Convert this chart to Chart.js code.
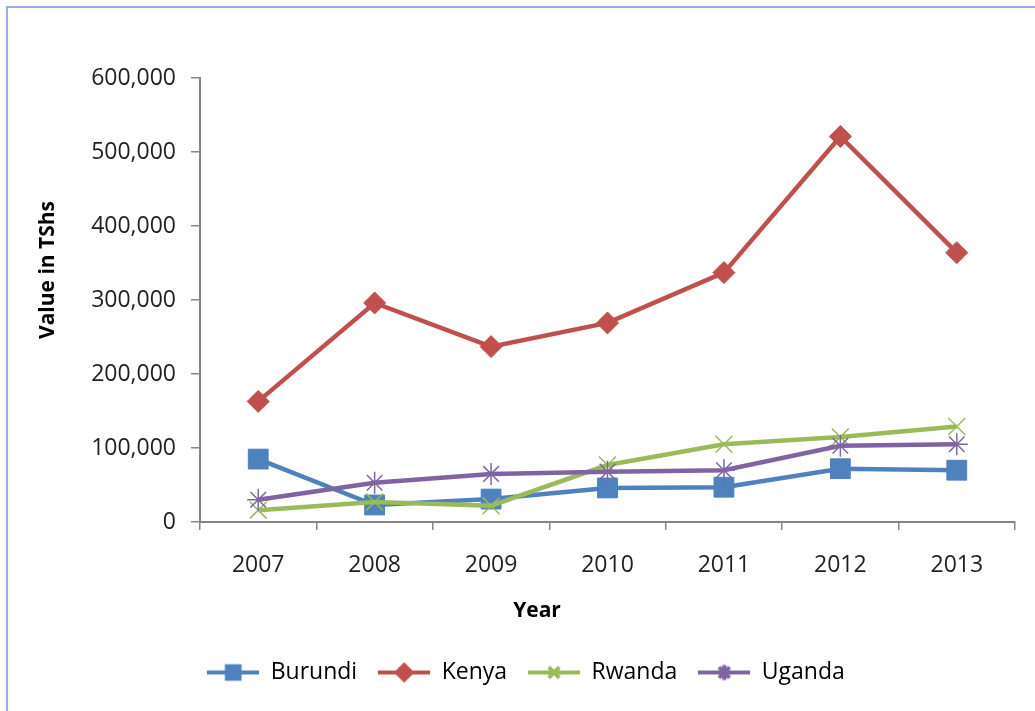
<!DOCTYPE html>
<html>
<head>
<meta charset="utf-8">
<script src="https://cdn.jsdelivr.net/npm/chart.js@4"></script>
<style>
  html, body { margin: 0; padding: 0; background: #fff; overflow: hidden; }
  #frame {
    position: absolute; left: 6px; top: 6px; width: 1100px; height: 800px;
    border: 2px solid #8db3e2;
  }
  #chart { position: absolute; left: 0; top: 0; }
</style>
</head>
<body>
<div id="frame"></div>
<canvas id="chart" width="1035" height="711"></canvas>
<script>
const years = ["2007", "2008", "2009", "2010", "2011", "2012", "2013"]
const burundi = [85000, 23000, 31000, 46000, 47000, 72000, 70000]
const kenya = [163000, 296000, 237000, 269000, 337000, 521000, 364000]
const rwanda = [16000, 27000, 22000, 77000, 105000, 115000, 129000]
const uganda = [30000, 53000, 65000, 68000, 70000, 103000, 105000]
const yTicks = [0, 100000, 200000, 300000, 400000, 500000, 600000]

const series = [
  { label: "Burundi", data: burundi, color: "#4f81bd", marker: "rect", radius: 14, filled: true },
  { label: "Kenya", data: kenya, color: "#c0504d", marker: "rectRot", radius: 11, filled: true },
  { label: "Rwanda", data: rwanda, color: "#9bbb59", marker: "crossRot", radius: 12, filled: false },
  { label: "Uganda", data: uganda, color: "#8064a2", marker: "star", radius: 11, filled: false },
]

Chart.defaults.font.family = "'Open Sans', sans-serif"
Chart.defaults.font.size = 23
Chart.defaults.color = "#1f1f1f"

// small line + marker pictures for the legend
function legendIcon(s) {
  const c = document.createElement("canvas")
  c.width = 52
  c.height = 24
  const ctx = c.getContext("2d")
  ctx.strokeStyle = s.color
  ctx.fillStyle = s.color
  ctx.lineWidth = 4
  ctx.beginPath()
  ctx.moveTo(0, 12)
  ctx.lineTo(52, 12)
  ctx.stroke()
  const r = s.marker === "rect" ? 9 : 7.5
  Chart.helpers.drawPoint(ctx, { pointStyle: s.marker, radius: r, borderWidth: s.filled ? 1 : 1.2 }, 26, 12)
  return c
}

const titles = {
  id: "titles",
  afterDraw(chart) {
    const ctx = chart.ctx
    ctx.save()
    ctx.fillStyle = "#000"
    ctx.font = "bold 21px 'Open Sans', sans-serif"
    ctx.textAlign = "center"
    ctx.textBaseline = "middle"
    ctx.fillText("Year", 537, 611)
    ctx.translate(48, 270)
    ctx.rotate(-Math.PI / 2)
    ctx.fillText("Value in TShs", 0, 0)
    ctx.restore()
  },
}

const config = {
  type: "line",
  data: {
    labels: years,
    datasets: series.map((s, i) => ({
      label: s.label,
      data: s.data,
      order: series.length - i,
      borderColor: s.color,
      backgroundColor: s.color,
      borderWidth: 4.5,
      tension: 0,
      pointStyle: s.marker,
      pointRadius: s.radius,
      pointBorderWidth: s.filled ? 1 : 1.5,
      pointBackgroundColor: s.color,
      pointBorderColor: s.color,
    })),
  },
  options: {
    responsive: false,
    animation: false,
    devicePixelRatio: 1,
    layout: { padding: { left: 37, right: 20, top: 78, bottom: 17 } },
    plugins: {
      tooltip: { enabled: false },
      legend: {
        position: "bottom",
        labels: {
          usePointStyle: true,
          pointStyleWidth: 52,
          padding: 21,
          color: "#1f1f1f",
          generateLabels: () =>
            series.map((s, i) => ({
              text: s.label,
              pointStyle: legendIcon(s),
              datasetIndex: i,
              hidden: false,
              lineWidth: 0,
            })),
        },
      },
    },
    scales: {
      x: {
        offset: true,
        afterFit: (scale) => { scale.height = 118 },
        grid: { offset: true, drawOnChartArea: false, tickLength: 8, color: "#868686", lineWidth: 1.5 },
        border: { color: "#868686", width: 2 },
        ticks: { padding: 22, color: "#1f1f1f" },
      },
      y: {
        min: 0,
        max: 600000,
        afterFit: (scale) => { scale.width = 163 },
        afterBuildTicks: (scale) => { scale.ticks = yTicks.map((v) => ({ value: v })) },
        grid: { drawOnChartArea: false, tickLength: 9, color: "#868686", lineWidth: 1.5 },
        border: { color: "#868686", width: 2 },
        ticks: {
          padding: 15,
          color: "#1f1f1f",
          callback: (val) => val.toLocaleString("en-US"),
        },
      },
    },
  },
  plugins: [titles],
}

new Chart(document.getElementById("chart"), config)
</script>
</body>
</html>
